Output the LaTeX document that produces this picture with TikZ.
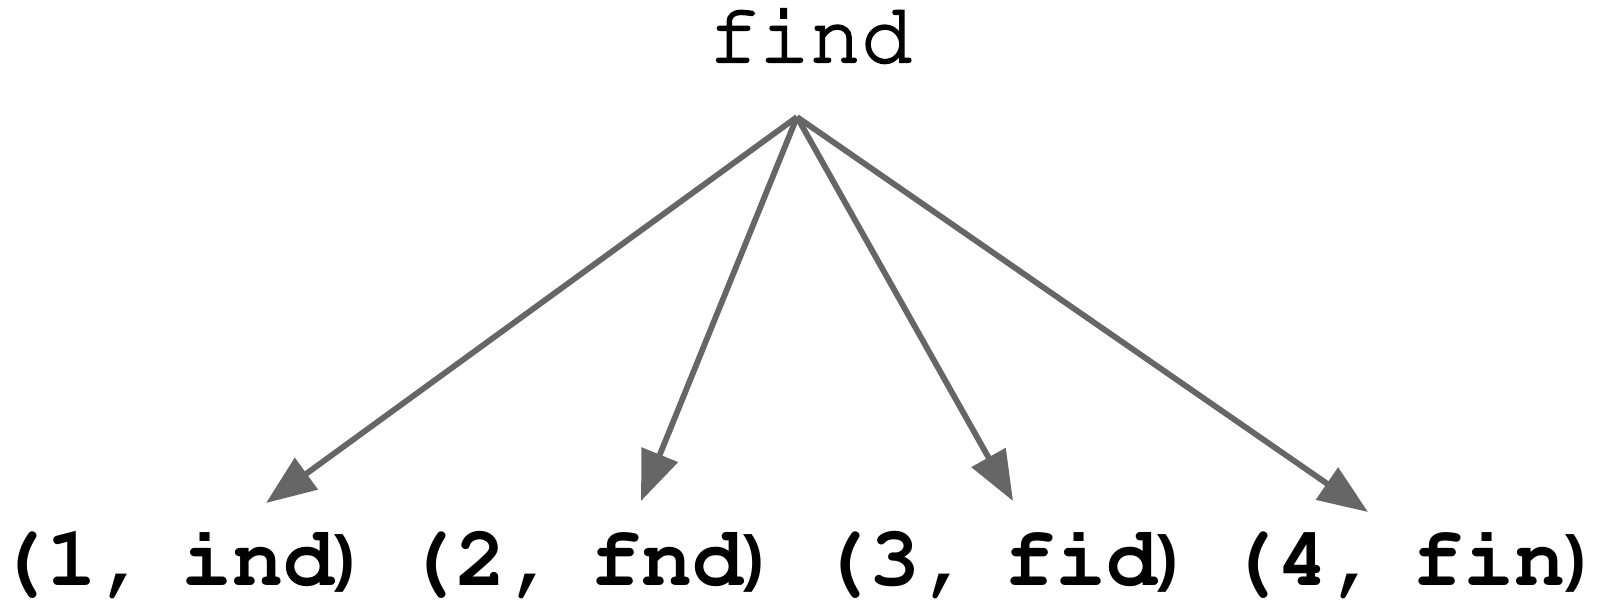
\documentclass[tikz,border=0pt]{standalone}
\usepackage[T1]{fontenc}
\usepackage{fontspec}
\usetikzlibrary{arrows.meta}
\newfontfamily\parsans{Liberation Sans}
\definecolor{edgegray}{HTML}{666666}
\newcommand{\courreg}{\fontencoding{T1}\fontfamily{pcr}\fontseries{m}\selectfont}
\newcommand{\courbold}{\fontencoding{T1}\fontfamily{pcr}\fontseries{b}\selectfont}
\newcommand{\lblfont}{\fontsize{42.5}{50}\courbold}
\newcommand{\cparen}{{\parsans\fontsize{31}{36}\selectfont\raisebox{3pt}{)}}}
\newcommand{\semibold}[1]{\special{pdf:literal direct 2 Tr 1 w 0 G}#1\special{pdf:literal direct 0 Tr}}
\newcommand{\lbltext}[2]{(#1,\hspace{-9pt} #2\cparen}
\tikzset{
  lbl/.style={inner sep=0pt, anchor=base west, font=\lblfont},
  topword/.style={inner sep=0pt, anchor=base, font=\fontsize{42.5}{50}\courreg},
  edge/.style={draw=edgegray, line width=2.9pt, -{Triangle[length=25pt,width=19pt]}, edgegray}
}
\begin{document}
\begin{tikzpicture}[x=0.5pt,y=-0.5pt]
\useasboundingbox (0,0) rectangle (1600,604);
\node[topword] (top) at (810,62) {\semibold{find}};
\coordinate (src) at (797,117);
\node[lbl] (l1) at (-5,585) {\lbltext{1}{ind}};
\node[lbl] (l2) at (404,585) {\lbltext{2}{fnd}};
\node[lbl] (l3) at (818,585) {\lbltext{3}{fid}};
\node[lbl] (l4) at (1226,585) {\lbltext{4}{fin}};
\coordinate (t1) at (266,503);
\coordinate (t2) at (641,501);
\coordinate (t3) at (1013,501);
\coordinate (t4) at (1368,512);
\draw[edge] (src) -- (t1);
\draw[edge] (src) -- (t2);
\draw[edge] (src) -- (t3);
\draw[edge] (src) -- (t4);
\end{tikzpicture}
\end{document}
